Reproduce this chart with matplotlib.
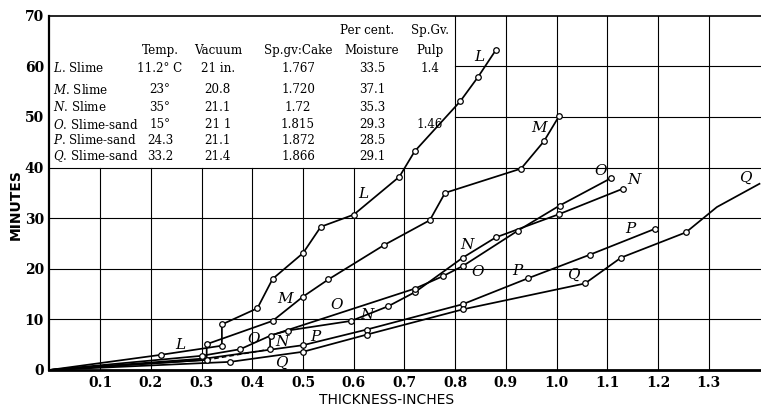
import matplotlib
matplotlib.use("Agg")
import matplotlib.pyplot as plt

# thickness (inches) vs minutes
L_x = [0, 0.22, 0.34, 0.34, 0.41, 0.44, 0.50, 0.535, 0.60, 0.69, 0.72, 0.81, 0.845, 0.88]
L_y = [0, 3.0, 4.8, 9.0, 12.2, 18.0, 23.1, 28.3, 30.7, 38.2, 43.2, 53.1, 57.9, 63.2]
M_x = [0, 0.31, 0.31, 0.44, 0.50, 0.55, 0.66, 0.75, 0.78, 0.93, 0.975, 1.005]
M_y = [0, 2.0, 5.1, 9.7, 14.5, 17.9, 24.7, 29.6, 35.0, 39.8, 45.2, 50.2]
N_x = [0, 0.31, 0.435, 0.435, 0.47, 0.595, 0.668, 0.721, 0.815, 0.88, 1.005, 1.13]
N_y = [0, 2.0, 4.1, 6.8, 7.8, 9.7, 12.6, 15.4, 22.2, 26.2, 30.8, 35.8]
O_x = [0, 0.30, 0.376, 0.436, 0.721, 0.775, 0.816, 0.923, 1.006, 1.107]
O_y = [0, 2.8, 4.1, 6.8, 16.1, 18.5, 20.6, 27.5, 32.5, 37.9]
P_x = [0, 0.31, 0.50, 0.626, 0.815, 0.943, 1.066, 1.194]
P_y = [0, 2.3, 4.9, 8.0, 13.0, 18.1, 22.8, 27.9]
Q_x = [0, 0.356, 0.50, 0.626, 0.816, 1.056, 1.127, 1.255, 1.316, 1.40]
Q_y = [0, 1.6, 3.6, 7.0, 12.0, 17.1, 22.2, 27.2, 32.2, 36.8]

x_ticks = [0.1, 0.2, 0.3, 0.4, 0.5, 0.6, 0.7, 0.8, 0.9, 1.0, 1.1, 1.2, 1.3]
y_ticks = [0, 10, 20, 30, 40, 50, 60, 70]

# table in the top-left corner
tbl_names = ["L", "M", "N", "O", "P", "Q"]
tbl_kind = ["Slime", "Slime", "Slime", "Slime-sand", "Slime-sand", "Slime-sand"]
tbl_temp = ["11.2° C", "23°", "35°", "15°", "24.3", "33.2"]
tbl_vac = ["21 in.", "20.8", "21.1", "21 1", "21.1", "21.4"]
tbl_cake = ["1.767", "1.720", "1.72", "1.815", "1.872", "1.866"]
tbl_moist = ["33.5", "37.1", "35.3", "29.3", "28.5", "29.1"]
tbl_pulp = ["1.4", "", "", "1.46", "", ""]

plt.rcParams["mathtext.fontset"] = "dejavuserif"
serif = "DejaVu Serif"

fig = plt.figure(figsize=(7.61, 4.09), dpi=100)
ax = fig.add_axes([0.065, 0.0954, 0.935, 0.866])
ax.set_xlim(0, 1.403)
ax.set_ylim(0, 70)

# grid, leaving the table box clear
for xv in x_ticks:
    top = 40 / 70 if xv < 0.75 else 1
    ax.axvline(xv, ymax=top, color="black", lw=0.8, zorder=1)
for yv in y_ticks[1:-1]:
    left = 0 if yv <= 40 else 0.8 / 1.403
    ax.axhline(yv, xmin=left, color="black", lw=0.8, zorder=1)

line_kw = dict(color="black", lw=1.25, zorder=3)
mk_kw = dict(ls="none", marker="o", ms=4, mfc="white", mec="black", mew=0.9, zorder=4)

ax.plot(L_x, L_y, **line_kw)
ax.plot(L_x, L_y, markevery=list(range(1, len(L_x))), **mk_kw)
ax.plot(M_x, M_y, **line_kw)
ax.plot(M_x, M_y, markevery=list(range(2, len(M_x))), **mk_kw)
ax.plot(N_x[:2], N_y[:2], **line_kw)
ax.plot(N_x[1:3], N_y[1:3], ls=(0, (3, 2)), color="black", lw=1.1, zorder=3)
ax.plot(N_x[2:], N_y[2:], **line_kw)
ax.plot(N_x, N_y, markevery=[1, 2] + list(range(4, len(N_x))), **mk_kw)
ax.plot(O_x, O_y, **line_kw)
ax.plot(O_x, O_y, markevery=list(range(1, len(O_x))), **mk_kw)
ax.plot(P_x, P_y, **line_kw)
ax.plot(P_x, P_y, markevery=list(range(2, len(P_x))), **mk_kw)
ax.plot(Q_x, Q_y, **line_kw)
ax.plot(Q_x, Q_y, markevery=list(range(1, 8)), **mk_kw)

# curve letters
curve_labels = [
    ("L", 0.257, 4.9), ("L", 0.619, 34.8), ("L", 0.848, 61.8),
    ("M", 0.464, 14.1), ("M", 0.966, 47.8),
    ("N", 0.458, 5.6), ("N", 0.626, 10.8), ("N", 0.824, 24.7), ("N", 1.153, 37.5),
    ("O", 0.402, 6.2), ("O", 0.566, 12.8), ("O", 0.845, 19.4), ("O", 1.086, 39.4),
    ("P", 0.524, 6.6), ("P", 0.923, 19.5), ("P", 1.145, 27.9),
    ("Q", 0.458, 1.4), ("Q", 1.033, 18.9), ("Q", 1.372, 38.0),
]
for txt, xx, yy in curve_labels:
    ax.text(xx, yy, txt, family=serif, style="italic", fontsize=11,
            ha="center", va="center", zorder=5)

# table
tfs = 8.6
ax.text(0.626, 67.1, "Per cent.", family=serif, fontsize=tfs, ha="center", va="center")
ax.text(0.75, 67.1, "Sp.Gv.", family=serif, fontsize=tfs, ha="center", va="center")
for head, xx in [("Temp.", 0.218), ("Vacuum", 0.332), ("Sp.gv:Cake", 0.49),
                 ("Moisture", 0.636), ("Pulp", 0.75)]:
    ax.text(xx, 63.1, head, family=serif, fontsize=tfs, ha="center", va="center")
row_y = [59.6, 55.4, 51.9, 48.5, 45.4, 42.2]
for i, yy in enumerate(row_y):
    ax.text(0.006, yy, r"$\mathit{%s}$. %s" % (tbl_names[i], tbl_kind[i]),
            family=serif, fontsize=tfs, ha="left", va="center")
    ax.text(0.218, yy, tbl_temp[i], family=serif, fontsize=tfs, ha="center", va="center")
    ax.text(0.332, yy, tbl_vac[i], family=serif, fontsize=tfs, ha="center", va="center")
    ax.text(0.49, yy, tbl_cake[i], family=serif, fontsize=tfs, ha="center", va="center")
    ax.text(0.636, yy, tbl_moist[i], family=serif, fontsize=tfs, ha="center", va="center")
    ax.text(0.75, yy, tbl_pulp[i], family=serif, fontsize=tfs, ha="center", va="center")

# axes styling
ax.set_xticks(x_ticks)
ax.set_xticklabels([f"{v:.1f}" for v in x_ticks])
ax.set_yticks(y_ticks)
ax.set_yticklabels([str(v) for v in y_ticks])
ax.tick_params(length=0, pad=4)
for lab in ax.get_xticklabels() + ax.get_yticklabels():
    lab.set_family(serif)
    lab.set_fontweight("bold")
    lab.set_fontsize(10)
ax.spines["right"].set_visible(False)
ax.spines["left"].set_linewidth(1.6)
ax.spines["bottom"].set_linewidth(2.0)
ax.spines["top"].set_linewidth(1.2)

fig.text(0.508, 0.022, "THICKNESS-INCHES", family="DejaVu Sans", fontsize=10,
         fontweight="medium", ha="center", va="center")
fig.text(0.021, 0.5, "MINUTES", family="DejaVu Sans", fontsize=10,
         fontweight="bold", rotation=90, ha="center", va="center")

fig.savefig("out.png", dpi=100)
